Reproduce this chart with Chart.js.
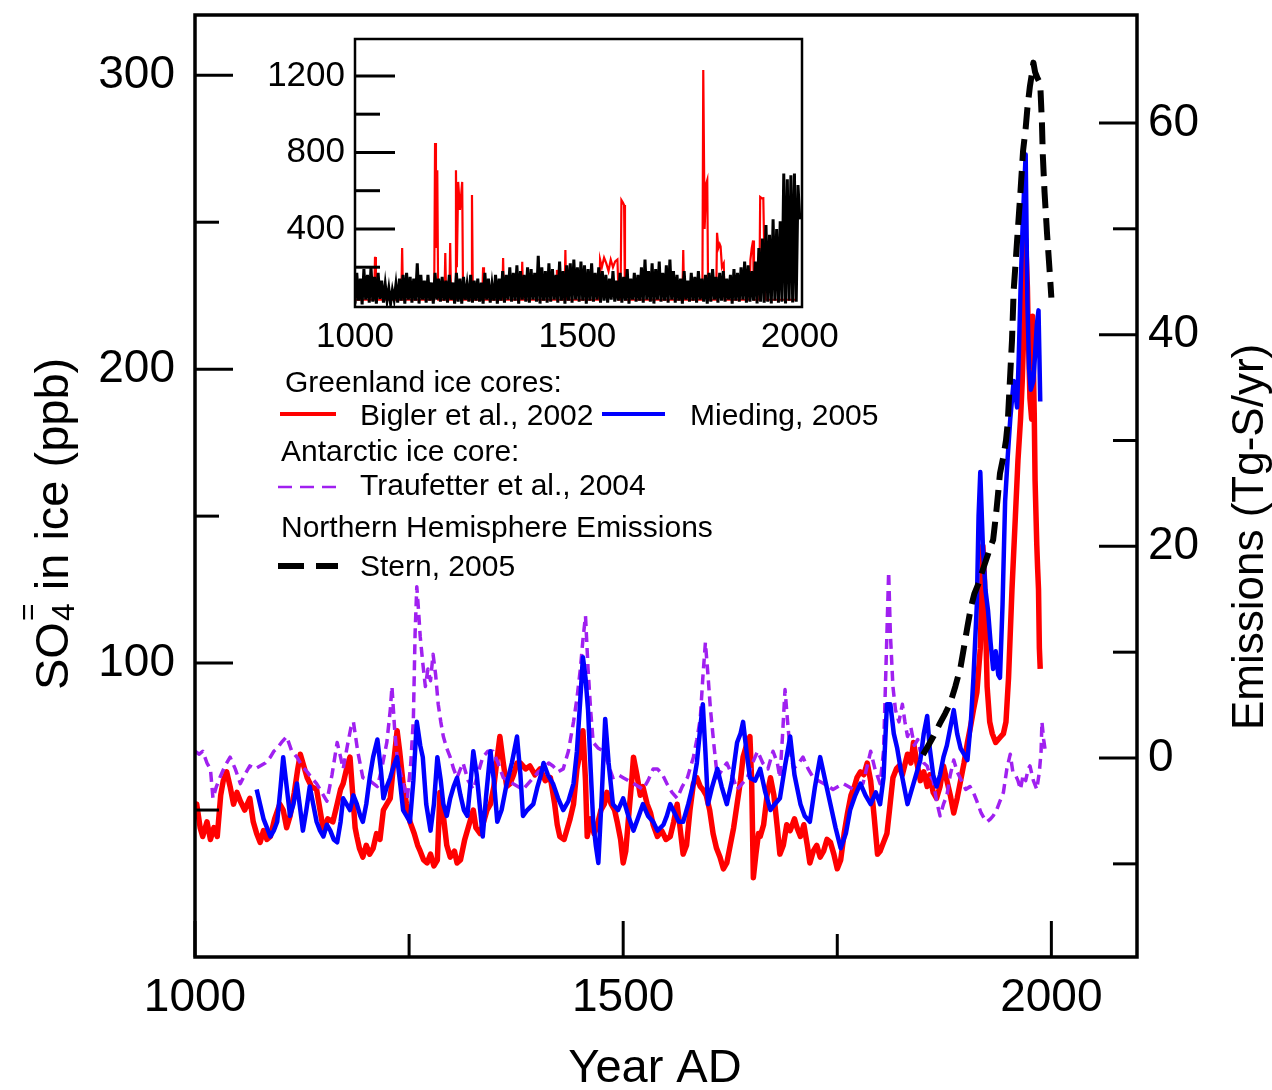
<!DOCTYPE html>
<html><head><meta charset="utf-8">
<script src="https://cdn.jsdelivr.net/npm/chart.js@4.4.1/dist/chart.umd.min.js"></script>
<style>
html,body{margin:0;padding:0;background:#fff;}
#wrap{position:relative;width:1272px;height:1090px;overflow:hidden;}
#wrap canvas{position:absolute;}
</style>
</head><body>
<div id="wrap">
<canvas id="main" width="1272" height="1090" style="left:0;top:0;"></canvas>
<canvas id="inset" width="620" height="338" style="left:250px;top:28px;"></canvas>
</div>
<script>
// ---------------- DATA ----------------
// Main panel: [year AD, SO4 in ice (ppb)]
const biglerRecord = [
[1000,50],[1002,52],[1006,44],[1009,41],[1014,46],[1018,40],[1022,44],[1026,41],[1030,55],[1033,60],
[1037,63],[1041,58],[1045,52],[1049,56],[1053,53],[1058,50],[1064,54],[1068,46],[1072,42],[1076,39],
[1080,43],[1084,40],[1088,41],[1093,47],[1099,52],[1103,50],[1107,44],[1111,48],[1116,56],[1120,64],
[1123,69],[1127,65],[1131,61],[1136,58],[1142,57],[1146,50],[1150,43],[1155,47],[1161,46],[1166,52],
[1170,57],[1173,59],[1177,64],[1181,68],[1184,56],[1187,44],[1189,41],[1192,37],[1196,34],[1200,38],
[1204,35],[1208,37],[1212,42],[1216,40],[1220,50],[1224,52],[1228,54],[1232,66],[1236,77],[1239,70],
[1243,59],[1247,52],[1251,46],[1256,42],[1260,38],[1263,36],[1267,33],[1271,32],[1275,35],[1279,31],
[1283,33],[1286,56],[1290,48],[1294,38],[1298,34],[1303,36],[1306,32],[1310,33],[1315,40],[1321,46],
[1325,50],[1328,44],[1333,42],[1338,47],[1341,50],[1345,52],[1349,58],[1353,68],[1356,75],[1360,66],
[1364,58],[1368,59],[1372,62],[1376,66],[1380,66],[1386,64],[1391,65],[1397,62],[1403,64],[1409,60],
[1415,61],[1420,52],[1423,45],[1426,41],[1431,40],[1435,44],[1438,47],[1442,52],[1446,64],[1450,70],
[1453,77],[1456,60],[1458,41],[1462,47],[1466,42],[1469,44],[1474,50],[1478,52],[1481,56],[1486,52],
[1490,50],[1493,46],[1497,40],[1500,32],[1503,36],[1507,50],[1510,60],[1512,68],[1516,62],[1520,55],
[1523,58],[1528,52],[1532,49],[1535,45],[1540,41],[1545,43],[1550,40],[1555,41],[1559,46],[1563,52],
[1566,45],[1570,35],[1574,38],[1578,50],[1582,59],[1586,61],[1590,58],[1593,57],[1597,55],[1601,50],
[1605,42],[1609,37],[1613,34],[1617,30],[1621,32],[1625,38],[1629,44],[1633,52],[1637,60],[1640,68],
[1644,72],[1648,75],[1650,60],[1652,27],[1655,35],[1658,42],[1660,41],[1664,45],[1668,55],[1672,61],
[1676,55],[1680,44],[1683,35],[1687,38],[1691,45],[1695,43],[1700,47],[1703,44],[1707,41],[1711,45],
[1715,38],[1718,32],[1722,36],[1726,38],[1730,34],[1734,36],[1738,40],[1742,39],[1746,35],[1750,30],
[1754,33],[1758,42],[1762,49],[1766,55],[1770,58],[1773,61],[1777,63],[1781,62],[1785,66],[1789,60],
[1793,48],[1797,35],[1800,36],[1804,39],[1808,42],[1811,50],[1815,61],[1819,64],[1822,65],[1826,62],
[1832,69],[1836,66],[1839,73],[1843,66],[1847,60],[1851,63],[1855,58],[1858,62],[1862,56],[1866,54],
[1870,58],[1874,65],[1878,60],[1882,55],[1886,49],[1890,54],[1894,60],[1898,66],[1902,73],[1906,79],
[1909,84],[1913,90],[1917,105],[1920,140],[1922,128],[1925,92],[1928,80],[1931,76],[1935,73],[1938,74],
[1941,75],[1944,76],[1947,80],[1950,95],[1954,125],[1958,150],[1961,169],[1964,183],[1966,196],[1968,215],
[1970,244],[1972,228],[1973,213],[1975,190],[1977,183],[1978,218],[1980,185],[1981,162],[1983,140],[1984,132],
[1985,125],[1986,105],[1987,98]
];

const miedingRecord = [
[1072,57],[1076,52],[1080,47],[1084,44],[1088,41],[1092,43],[1096,46],[1100,58],[1103,68],[1107,58],
[1111,48],[1115,52],[1119,59],[1123,50],[1126,43],[1130,50],[1134,58],[1138,52],[1142,46],[1146,43],
[1150,41],[1154,45],[1158,43],[1162,40],[1166,39],[1170,46],[1173,54],[1177,52],[1181,50],[1185,55],
[1189,52],[1193,48],[1196,46],[1200,52],[1204,61],[1208,68],[1213,74],[1217,64],[1220,54],[1224,58],
[1228,61],[1232,65],[1236,68],[1240,58],[1243,50],[1247,48],[1251,46],[1255,60],[1259,80],[1263,72],
[1266,68],[1270,52],[1275,43],[1279,52],[1283,68],[1287,60],[1290,52],[1294,48],[1298,54],[1302,58],
[1306,61],[1310,55],[1314,50],[1318,48],[1322,60],[1325,70],[1329,62],[1333,50],[1336,41],[1340,55],
[1345,70],[1349,60],[1353,46],[1358,50],[1364,59],[1370,66],[1376,75],[1380,62],[1383,48],[1388,50],
[1395,52],[1400,58],[1404,62],[1407,66],[1412,62],[1418,59],[1424,54],[1430,50],[1436,53],[1442,59],
[1446,70],[1450,88],[1453,102],[1456,95],[1459,84],[1462,64],[1465,46],[1468,38],[1471,32],[1475,55],
[1479,81],[1483,66],[1488,52],[1494,50],[1500,54],[1506,48],[1512,43],[1517,47],[1523,52],[1529,48],
[1535,46],[1540,43],[1547,45],[1551,48],[1555,52],[1560,49],[1565,46],[1570,46],[1576,52],[1582,59],
[1586,66],[1590,78],[1593,86],[1596,70],[1599,52],[1604,58],[1610,64],[1615,58],[1621,52],[1627,60],
[1633,73],[1637,76],[1640,80],[1644,70],[1648,61],[1654,60],[1660,64],[1666,56],[1672,50],[1677,52],
[1683,54],[1689,65],[1695,75],[1700,62],[1707,52],[1712,48],[1718,46],[1724,58],[1730,68],[1736,60],
[1742,52],[1748,44],[1754,37],[1760,42],[1765,50],[1771,55],[1777,59],[1783,55],[1789,52],[1795,56],
[1800,52],[1804,61],[1808,86],[1812,86],[1816,76],[1820,71],[1824,64],[1828,58],[1832,52],[1836,56],
[1840,60],[1844,64],[1847,67],[1851,76],[1855,82],[1858,71],[1862,62],[1866,58],[1870,62],[1874,68],
[1878,72],[1882,78],[1886,84],[1890,76],[1894,71],[1898,69],[1902,67],[1906,80],[1909,95],[1913,120],
[1915,150],[1917,165],[1920,140],[1923,125],[1926,118],[1929,107],[1932,98],[1935,104],[1938,96],[1940,95],
[1943,120],[1946,155],[1949,170],[1952,183],[1956,196],[1960,187],[1962,205],[1964,227],[1966,245],[1968,260],
[1970,273],[1972,223],[1974,200],[1976,193],[1979,196],[1981,205],[1983,215],[1985,220],[1986,205],[1987,189]
];

const traufetterRecord = [
[1000,70],[1005,69],[1009,70],[1014,66],[1018,64],[1021,54],[1025,58],[1029,61],[1035,65],[1041,68],
[1047,64],[1053,59],[1058,62],[1064,65],[1070,64],[1076,65],[1082,66],[1088,68],[1092,70],[1096,71],
[1101,73],[1107,75],[1113,70],[1119,68],[1125,65],[1131,63],[1136,61],[1142,59],[1148,56],[1154,53],
[1160,62],[1166,73],[1170,68],[1173,64],[1178,72],[1182,78],[1185,80],[1190,70],[1196,61],[1204,60],
[1213,58],[1218,64],[1224,73],[1228,84],[1230,92],[1233,78],[1236,68],[1242,60],[1248,54],[1252,66],
[1255,81],[1257,110],[1259,126],[1261,118],[1263,109],[1266,100],[1269,92],[1272,98],[1275,94],[1278,103],
[1281,96],[1284,86],[1287,80],[1290,75],[1294,71],[1298,68],[1302,64],[1306,61],[1310,64],[1313,66],
[1319,60],[1325,57],[1330,62],[1336,68],[1342,70],[1348,70],[1354,66],[1360,61],[1366,60],[1371,59],
[1377,58],[1383,57],[1389,59],[1395,61],[1401,63],[1407,64],[1413,66],[1418,65],[1424,63],[1430,64],
[1436,70],[1442,80],[1446,88],[1450,98],[1453,108],[1456,116],[1459,98],[1462,84],[1465,73],[1471,71],
[1477,70],[1482,66],[1488,61],[1494,62],[1500,61],[1506,60],[1512,59],[1518,58],[1523,57],[1529,60],
[1535,64],[1540,64],[1546,62],[1551,59],[1557,56],[1563,54],[1569,58],[1575,61],[1582,68],[1586,74],
[1590,81],[1593,95],[1596,107],[1599,96],[1602,84],[1606,72],[1610,61],[1616,64],[1621,66],[1627,62],
[1633,57],[1639,59],[1645,61],[1651,66],[1657,70],[1663,66],[1669,64],[1675,70],[1680,66],[1683,61],
[1686,75],[1689,91],[1692,80],[1695,70],[1699,64],[1705,66],[1710,68],[1716,64],[1722,61],[1728,60],
[1734,59],[1740,58],[1745,57],[1751,58],[1757,59],[1763,58],[1769,57],[1775,58],[1780,59],[1785,65],
[1789,70],[1794,64],[1800,59],[1804,70],[1807,100],[1810,131],[1812,110],[1815,92],[1818,84],[1822,80],
[1826,86],[1829,80],[1832,75],[1836,78],[1840,72],[1844,74],[1847,70],[1851,66],[1855,65],[1858,62],
[1862,60],[1866,53],[1870,48],[1874,52],[1878,55],[1882,62],[1886,67],[1890,63],[1895,60],[1900,57],
[1905,58],[1909,56],[1913,53],[1918,49],[1922,47],[1925,46],[1929,47],[1932,48],[1936,50],[1940,53],
[1944,56],[1948,64],[1952,69],[1955,63],[1958,62],[1961,60],[1964,57],[1967,62],[1970,60],[1973,64],
[1975,65],[1979,60],[1983,57],[1986,63],[1988,70],[1989,80],[1991,74],[1993,70]
];

// Right axis: [year AD, NH emissions (Tg-S/yr)]
const sternRecord = [
[1850,0.3],[1855,1.0],[1862,2.0],[1870,3.3],[1876,4.2],[1882,5.2],[1888,6.8],[1894,8.6],[1898,10.5],[1902,12.4],
[1906,14.2],[1910,15.5],[1915,16.5],[1920,17.8],[1925,19.0],[1929,20.0],[1932,20.6],[1936,23.5],[1940,26.9],[1944,28.5],
[1947,30.0],[1949,31.6],[1952,36.3],[1954,39.4],[1956,44.2],[1958,46.5],[1960,48.9],[1964,53.6],[1967,57.4],[1970,59.5],
[1972,61.4],[1975,63.5],[1977,64.5],[1979,65.7],[1981,64.8],[1984,64.2],[1987,63.7],[1989,60.0],[1990,57.0],[1992,53.5],
[1995,49.5],[1998,46.0],[2000,43.5]
];

// Inset: full-resolution record, sampled every 4 years from 1000 AD (ppb)
const insetBlackStartYear = 1000;
const insetBlackStepYears = 4;
const insetBlackSO4 = [
10,170,25,140,5,190,30,160,15,200,
20,150,10,170,35,130,15,110,25,90,
10,80,30,110,15,140,25,160,10,170,
30,150,15,140,25,220,10,160,30,130,
15,160,25,120,10,170,30,140,20,150,
25,130,15,160,30,120,10,170,20,140,
10,150,30,110,20,160,15,130,25,140,
20,120,10,170,30,140,15,110,25,160,
10,140,25,180,15,160,30,200,20,170,
25,210,10,180,30,160,20,200,15,190,
30,170,20,260,10,200,25,180,15,220,
20,190,30,160,15,230,25,180,10,210,
25,220,15,240,30,200,20,230,25,210,
10,190,25,220,20,170,30,200,15,180,
25,160,15,140,30,180,20,130,25,170,
15,150,25,190,10,140,30,170,20,160,
25,200,15,240,30,180,20,220,10,190,
30,230,20,170,25,210,15,240,30,180,
15,160,25,140,10,180,30,130,20,170,
25,150,15,180,30,140,20,160,10,170,
20,190,30,150,15,170,25,180,20,140,
30,160,10,190,25,170,20,200,30,230,
15,210,20,180,25,230,10,300,20,350,
15,420,20,370,10,450,25,400,15,440,
20,690,10,660,25,680,15,690,20,630,
450
];
// Inset: Bigler volcanic spikes [year AD, ppb]
const insetRedRecord = [
[1000,30],[1043,30],[1045,254],[1047,30],[1104,30],[1106,300],[1108,30],[1178,30],[1180,849],[1182,300],
[1185,707],[1187,30],[1201,30],[1203,274],[1205,30],[1212,30],[1214,327],[1216,30],[1225,30],[1227,707],
[1229,200],[1232,646],[1236,500],[1241,646],[1243,30],[1261,30],[1263,578],[1265,30],[1286,30],[1288,200],
[1290,30],[1331,30],[1333,248],[1335,30],[1374,30],[1376,228],[1378,30],[1452,30],[1454,186],[1456,30],
[1471,30],[1473,290],[1475,30],[1549,30],[1551,240],[1555,200],[1560,250],[1565,220],[1570,180],[1575,240],
[1580,200],[1585,230],[1590,240],[1593,30],[1597,30],[1599,551],[1602,540],[1605,525],[1607,30],[1736,30],
[1738,290],[1740,30],[1781,30],[1783,1231],[1786,400],[1790,640],[1792,656],[1794,30],[1812,30],[1814,380],
[1817,300],[1820,320],[1822,308],[1825,200],[1829,220],[1831,30],[1887,30],[1889,238],[1892,300],[1895,340],
[1897,30],[1909,30],[1911,567],[1915,560],[1918,561],[1920,300],[1923,30],[1990,30]
];

// Axis ranges and ticks
const mainYearRange = [1000, 2100];
const so4Range = [0, 320.5];
const emissionRange = [-18.8, 70.2];
const yearLabelTicks = [1000, 1500, 2000];
const yearMinorTicks = [1250, 1750];
const so4LabelTicks = [100, 200, 300];
const so4MinorTicks = [50, 150, 250];
const emissionLabelTicks = [0, 20, 40, 60];
const emissionMinorTicks = [-10, 10, 30, 50];
const insetYearRange = [1000, 2005];
const insetSO4Range = [-8, 1393];
const insetYearTicks = [1000, 1500, 2000];
const insetSO4LabelTicks = [400, 800, 1200];
const insetSO4MinorTicks = [200, 600, 1000];

// ---------------- RENDERING ----------------
const FONT = "'Liberation Sans', Arial, Helvetica, sans-serif";
function toXY(pairs){ return pairs.map(p => ({x: p[0], y: p[1]})); }
const insetBlackXY = insetBlackSO4.map((v, i) => ({x: insetBlackStartYear + i * insetBlackStepYears, y: v}));

function setTicks(list){ return function(s){ s.ticks = list.map(v => ({value: v})); }; }
function fixH(h){ return function(s){ s.height = h; s.paddingLeft = 0; s.paddingRight = 0; s.paddingTop = 0; s.paddingBottom = 0; }; }
function fixW(w){ return function(s){ s.width = w; s.paddingTop = 0; s.paddingBottom = 0; s.paddingLeft = 0; s.paddingRight = 0; }; }

function boxTicks(marks, frameWidth){
  return {
    id: 'boxTicks',
    afterDraw(chart){
      const {ctx, chartArea: a, scales} = chart;
      ctx.save();
      ctx.strokeStyle = '#000';
      ctx.lineCap = 'butt';
      marks.forEach(m => {
        const s = scales[m.axis];
        ctx.lineWidth = m.width;
        m.values.forEach(v => {
          const p = s.getPixelForValue(v);
          ctx.beginPath();
          if (m.side === 'left'){ ctx.moveTo(a.left, p); ctx.lineTo(a.left + m.len, p); }
          else if (m.side === 'right'){ ctx.moveTo(a.right, p); ctx.lineTo(a.right - m.len, p); }
          else { ctx.moveTo(p, a.bottom); ctx.lineTo(p, a.bottom - m.len); }
          ctx.stroke();
        });
      });
      ctx.lineWidth = frameWidth;
      ctx.strokeRect(a.left, a.top, a.right - a.left, a.bottom - a.top);
      ctx.restore();
    }
  };
}

const titlesPlugin = {
  id: 'titles',
  afterDraw(chart){
    const ctx = chart.ctx;
    ctx.save();
    ctx.fillStyle = '#000';
    ctx.textBaseline = 'alphabetic';
    ctx.font = '47px ' + FONT;
    ctx.textAlign = 'center';
    ctx.fillText('Year AD', 655, 1082);
    ctx.save();
    ctx.translate(68, 690);
    ctx.rotate(-Math.PI / 2);
    ctx.textAlign = 'left';
    ctx.font = '47px ' + FONT;
    ctx.fillText('SO', 0, 0);
    let x = ctx.measureText('SO').width + 1;
    ctx.font = '32px ' + FONT;
    ctx.fillText('4', x, 6);
    const w4 = ctx.measureText('4').width;
    ctx.font = '30px ' + FONT;
    ctx.fillText('=', x, -30);
    const wEq = ctx.measureText('=').width;
    x += Math.max(w4, wEq);
    ctx.font = '47px ' + FONT;
    ctx.fillText(' in ice (ppb)', x, 0);
    ctx.restore();
    ctx.save();
    ctx.translate(1263, 730);
    ctx.rotate(-Math.PI / 2);
    ctx.textAlign = 'left';
    ctx.font = '44px ' + FONT;
    ctx.fillText('Emissions (Tg-S/yr)', 0, 0);
    ctx.restore();
    ctx.restore();
  }
};

const legendPlugin = {
  id: 'customLegend',
  afterDraw(chart){
    const ctx = chart.ctx;
    const ds = chart.data.datasets;
    const byLabel = l => ds.find(d => d.label === l);
    ctx.save();
    ctx.fillStyle = '#000';
    ctx.font = '30px ' + FONT;
    ctx.textAlign = 'left';
    ctx.textBaseline = 'alphabetic';
    const sample = (d, x0, x1, y, w, dash) => {
      ctx.save();
      ctx.strokeStyle = d.borderColor;
      ctx.lineWidth = w;
      ctx.setLineDash(dash || []);
      ctx.beginPath(); ctx.moveTo(x0, y); ctx.lineTo(x1, y); ctx.stroke();
      ctx.restore();
    };
    ctx.fillText('Greenland ice cores:', 285, 392);
    sample(byLabel('Bigler et al., 2002'), 280, 336, 414, 4);
    ctx.fillText('Bigler et al., 2002', 360, 425);
    sample(byLabel('Mieding, 2005'), 602, 665, 414, 4);
    ctx.fillText('Mieding, 2005', 690, 425);
    ctx.fillText('Antarctic ice core:', 281, 461);
    sample(byLabel('Traufetter et al., 2004'), 278, 336, 487, 2.5, [14, 8]);
    ctx.fillText('Traufetter et al., 2004', 360, 495);
    ctx.fillText('Northern Hemisphere Emissions', 281, 537);
    sample(byLabel('Stern, 2005'), 278, 338, 566, 6, [26, 12]);
    ctx.fillText('Stern, 2005', 360, 576);
    ctx.restore();
  }
};

const tickFont = {family: FONT, size: 46};

new Chart(document.getElementById('main'), {
  type: 'line',
  data: {
    datasets: [
      {label: 'Stern, 2005', data: toXY(sternRecord), yAxisID: 'yR', borderColor: '#000000', borderWidth: 6, borderDash: [22, 10], pointRadius: 0, order: 0, borderJoinStyle: 'round'},
      {label: 'Mieding, 2005', data: toXY(miedingRecord), yAxisID: 'y', borderColor: '#0000ff', borderWidth: 4.5, pointRadius: 0, order: 1, borderJoinStyle: 'round'},
      {label: 'Traufetter et al., 2004', data: toXY(traufetterRecord), yAxisID: 'y', borderColor: '#a020f0', borderWidth: 3.5, borderDash: [10, 6], pointRadius: 0, order: 2, borderJoinStyle: 'round'},
      {label: 'Bigler et al., 2002', data: toXY(biglerRecord), yAxisID: 'y', borderColor: '#ff0000', borderWidth: 5.5, pointRadius: 0, order: 3, borderJoinStyle: 'round'}
    ]
  },
  options: {
    responsive: false,
    devicePixelRatio: 1,
    animation: false,
    events: [],
    layout: {padding: {top: 15, left: 0, right: 0, bottom: 0}},
    plugins: {legend: {display: false}, tooltip: {enabled: false}},
    elements: {line: {tension: 0}},
    scales: {
      x: {
        type: 'linear', position: 'bottom', min: mainYearRange[0], max: mainYearRange[1],
        afterBuildTicks: setTicks(yearLabelTicks),
        afterFit: fixH(133),
        grid: {display: false, drawTicks: false}, border: {display: false},
        ticks: {font: tickFont, color: '#000', padding: 14, maxRotation: 0, autoSkip: false, callback: v => String(v)}
      },
      y: {
        type: 'linear', position: 'left', min: so4Range[0], max: so4Range[1],
        afterBuildTicks: setTicks(so4LabelTicks),
        afterFit: fixW(195),
        grid: {display: false, drawTicks: false}, border: {display: false},
        ticks: {font: tickFont, color: '#000', padding: 20, callback: v => String(v)}
      },
      yR: {
        type: 'linear', position: 'right', min: emissionRange[0], max: emissionRange[1],
        afterBuildTicks: setTicks(emissionLabelTicks),
        afterFit: fixW(135),
        grid: {display: false, drawTicks: false}, border: {display: false},
        ticks: {font: tickFont, color: '#000', padding: 11, callback: v => String(v)}
      }
    }
  },
  plugins: [
    boxTicks([
      {axis: 'y', side: 'left', values: so4LabelTicks, len: 38, width: 3},
      {axis: 'y', side: 'left', values: so4MinorTicks, len: 24, width: 3},
      {axis: 'yR', side: 'right', values: emissionLabelTicks, len: 38, width: 3},
      {axis: 'yR', side: 'right', values: emissionMinorTicks, len: 24, width: 3},
      {axis: 'x', side: 'bottom', values: yearLabelTicks, len: 36, width: 3},
      {axis: 'x', side: 'bottom', values: yearMinorTicks, len: 23, width: 3}
    ], 3.5),
    titlesPlugin,
    legendPlugin
  ]
});

const insetFont = {family: FONT, size: 35};
new Chart(document.getElementById('inset'), {
  type: 'line',
  data: {
    datasets: [
      {label: 'Full record', data: insetBlackXY, borderColor: '#000000', borderWidth: 3, pointRadius: 0, order: 0},
      {label: 'Bigler et al., 2002 (full)', data: toXY(insetRedRecord), borderColor: '#ff0000', borderWidth: 2.2, pointRadius: 0, order: 1}
    ]
  },
  options: {
    responsive: false,
    devicePixelRatio: 1,
    animation: false,
    events: [],
    layout: {padding: {top: 11, left: 0, right: 68, bottom: 0}},
    plugins: {legend: {display: false}, tooltip: {enabled: false}},
    elements: {line: {tension: 0}},
    scales: {
      x: {
        type: 'linear', position: 'bottom', min: insetYearRange[0], max: insetYearRange[1],
        afterBuildTicks: setTicks(insetYearTicks),
        afterFit: fixH(59),
        grid: {display: false, drawTicks: false}, border: {display: false},
        ticks: {font: insetFont, color: '#000', padding: 9, maxRotation: 0, autoSkip: false, callback: v => String(v)}
      },
      y: {
        type: 'linear', position: 'left', min: insetSO4Range[0], max: insetSO4Range[1],
        afterBuildTicks: setTicks(insetSO4LabelTicks),
        afterFit: fixW(105),
        grid: {display: false, drawTicks: false}, border: {display: false},
        ticks: {font: insetFont, color: '#000', padding: 10, callback: v => String(v)}
      }
    }
  },
  plugins: [
    boxTicks([
      {axis: 'y', side: 'left', values: insetSO4LabelTicks, len: 40, width: 3},
      {axis: 'y', side: 'left', values: insetSO4MinorTicks, len: 25, width: 3}
    ], 2.5)
  ]
});
</script>
</body></html>
